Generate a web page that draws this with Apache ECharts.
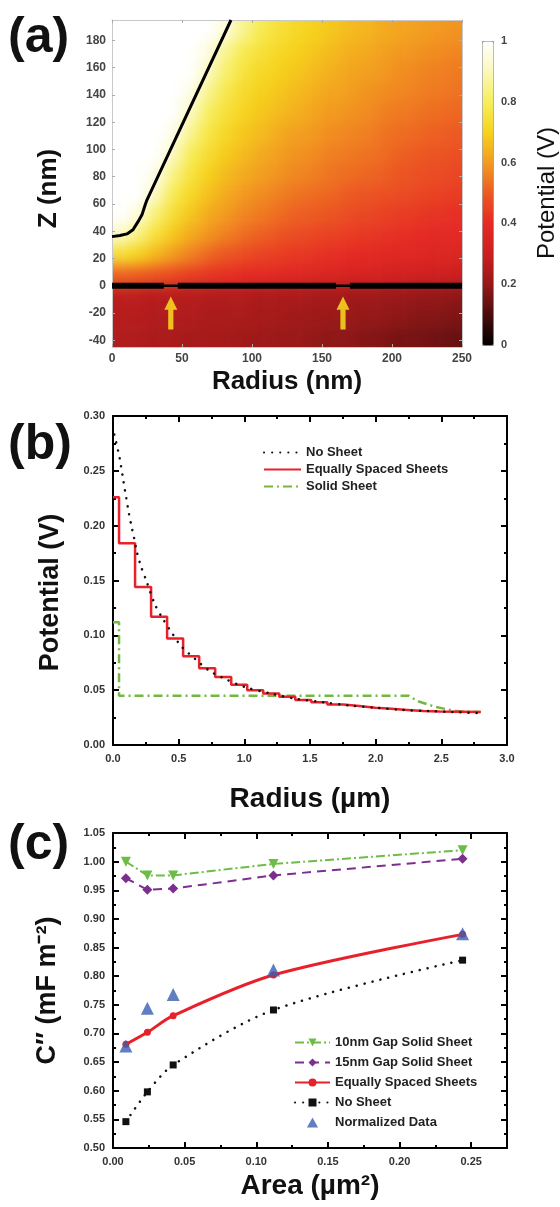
<!DOCTYPE html>
<html>
<head>
<meta charset="utf-8">
<script src="https://cdn.jsdelivr.net/npm/echarts@6/dist/echarts.min.js"></script>
<style>
  html, body { margin: 0; padding: 0; background: #fff; }
  #heatWrap { position: absolute; left: 112px; top: 20px; width: 350px; height: 327px; overflow: hidden; z-index: 1; }
  #heat { position: absolute; left: -35px; top: -40.875px; width: 420px; height: 408.75px; filter: blur(7px); }
  #main { position: absolute; left: 0; top: 0; width: 560px; height: 1207px; z-index: 2; }
</style>
</head>
<body>
<div id="heatWrap"><div id="heat"></div></div>
<div id="main"></div>
<script>
const FONT = 'Arial, "Liberation Sans", Helvetica, sans-serif';

// ---------- (a) potential map ----------
// cell centres: radius every 12.5 nm, z every 15 nm, rows listed from the top
const mapRadius = [6.25, 18.75, 31.25, 43.75, 56.25, 68.75, 81.25, 93.75, 106.25, 118.75,
                   131.25, 143.75, 156.25, 168.75, 181.25, 193.75, 206.25, 218.75, 231.25, 243.75];
const mapZ = [187.5, 172.5, 157.5, 142.5, 127.5, 112.5, 97.5, 82.5, 67.5, 52.5, 37.5, 22.5, 7.5, -7.5, -22.5, -37.5];
const mapPotential = [
  [1, 1, 1, 1, 1, 1, 0.95, 0.86, 0.79, 0.75, 0.72, 0.70, 0.68, 0.66, 0.65, 0.63, 0.62, 0.61, 0.60, 0.59],
  [1, 1, 1, 1, 1, 0.96, 0.86, 0.79, 0.75, 0.72, 0.70, 0.68, 0.66, 0.64, 0.63, 0.61, 0.60, 0.59, 0.58, 0.57],
  [1, 1, 1, 1, 1, 0.92, 0.82, 0.76, 0.72, 0.70, 0.68, 0.66, 0.64, 0.62, 0.61, 0.60, 0.58, 0.57, 0.56, 0.55],
  [1, 1, 1, 1, 0.97, 0.86, 0.78, 0.73, 0.70, 0.68, 0.66, 0.64, 0.62, 0.61, 0.59, 0.58, 0.57, 0.56, 0.55, 0.54],
  [1, 1, 1, 1, 0.92, 0.81, 0.75, 0.71, 0.68, 0.66, 0.64, 0.62, 0.60, 0.59, 0.58, 0.56, 0.55, 0.54, 0.53, 0.52],
  [1, 1, 1, 0.97, 0.86, 0.77, 0.72, 0.68, 0.66, 0.63, 0.61, 0.60, 0.58, 0.57, 0.56, 0.54, 0.53, 0.52, 0.51, 0.50],
  [1, 1, 1, 0.92, 0.80, 0.74, 0.69, 0.66, 0.63, 0.61, 0.59, 0.58, 0.56, 0.55, 0.54, 0.53, 0.51, 0.50, 0.49, 0.48],
  [1, 1, 0.97, 0.85, 0.76, 0.70, 0.66, 0.63, 0.61, 0.59, 0.57, 0.56, 0.54, 0.53, 0.52, 0.51, 0.49, 0.48, 0.47, 0.46],
  [1, 1, 0.92, 0.79, 0.72, 0.67, 0.63, 0.60, 0.58, 0.56, 0.54, 0.53, 0.52, 0.50, 0.49, 0.48, 0.47, 0.46, 0.45, 0.44],
  [1, 0.95, 0.83, 0.74, 0.68, 0.63, 0.60, 0.57, 0.55, 0.53, 0.51, 0.50, 0.49, 0.47, 0.46, 0.45, 0.44, 0.43, 0.42, 0.41],
  [0.92, 0.84, 0.75, 0.68, 0.63, 0.59, 0.56, 0.53, 0.51, 0.49, 0.47, 0.46, 0.45, 0.44, 0.43, 0.42, 0.41, 0.40, 0.39, 0.39],
  [0.74, 0.70, 0.65, 0.60, 0.56, 0.52, 0.49, 0.47, 0.45, 0.44, 0.43, 0.42, 0.41, 0.40, 0.39, 0.38, 0.37, 0.37, 0.36, 0.36],
  [0.51, 0.50, 0.48, 0.46, 0.44, 0.42, 0.41, 0.40, 0.39, 0.38, 0.37, 0.36, 0.35, 0.34, 0.34, 0.33, 0.32, 0.31, 0.31, 0.30],
  [0.27, 0.27, 0.26, 0.26, 0.26, 0.25, 0.25, 0.25, 0.24, 0.24, 0.24, 0.23, 0.23, 0.22, 0.22, 0.21, 0.21, 0.20, 0.20, 0.19],
  [0.26, 0.26, 0.25, 0.25, 0.25, 0.24, 0.24, 0.24, 0.23, 0.23, 0.22, 0.22, 0.21, 0.21, 0.20, 0.20, 0.19, 0.18, 0.18, 0.17],
  [0.25, 0.25, 0.24, 0.24, 0.23, 0.23, 0.23, 0.22, 0.22, 0.21, 0.21, 0.20, 0.19, 0.19, 0.18, 0.17, 0.16, 0.16, 0.15, 0.14]
];
const potentialColors = ['#000000', '#4a0c0c', '#951818', '#cc1f1f', '#e52a24', '#ec5a22',
                         '#f29a20', '#f6d21c', '#f7ee5a', '#faf8b8', '#ffffff'];
const tipRadius = [0, 5.7, 10.7, 15, 18.6, 21.4, 23.6, 25, 85];
const tipZ = [36, 36.8, 38, 41, 47, 52, 59, 63, 195];
const sheetSegments = [[0, 37], [47, 160], [170, 250]];
const arrowRadius = [42, 165];
const arrowZ = -20;
const zTicks = [-40, -20, 0, 20, 40, 60, 80, 100, 120, 140, 160, 180];

// ---------- (b) potential along the sheet ----------
const noSheetR = [0.01, 0.05, 0.08, 0.10, 0.12, 0.14, 0.16, 0.18, 0.21, 0.25, 0.32, 0.38, 0.45, 0.52,
                  0.63, 0.73, 0.84, 1.0, 1.2, 1.4, 1.6, 1.8, 2.0, 2.2, 2.4, 2.6, 2.8];
const noSheetV = [0.283, 0.262, 0.240, 0.226, 0.212, 0.200, 0.189, 0.177, 0.164, 0.151, 0.128, 0.115, 0.102, 0.090,
                  0.078, 0.068, 0.061, 0.053, 0.047, 0.042, 0.039, 0.036, 0.034, 0.032, 0.031, 0.030, 0.029];
const stepR = [0, 0.046, 0.168, 0.29, 0.412, 0.534, 0.656, 0.778, 0.900, 1.022, 1.144, 1.266,
               1.388, 1.51, 1.632, 1.754, 1.876, 1.998, 2.12, 2.242, 2.364, 2.486, 2.8];
const stepV = [0.226, 0.184, 0.144, 0.117, 0.097, 0.081, 0.070, 0.062, 0.055, 0.050, 0.047, 0.044,
               0.041, 0.039, 0.037, 0.0355, 0.034, 0.033, 0.032, 0.031, 0.0305, 0.030, 0.0295];
const solidR = [0, 0.046, 0.046, 2.25, 2.32, 2.45, 2.6, 2.8];
const solidV = [0.112, 0.112, 0.045, 0.045, 0.040, 0.035, 0.031, 0.030];

// ---------- (c) capacitance vs area ----------
const areaX = [0.009, 0.024, 0.042, 0.112, 0.244];
const gap10 = [1.000, 0.976, 0.976, 0.996, 1.020];
const gap15 = [0.971, 0.951, 0.953, 0.976, 1.005];
const equalC = [0.681, 0.702, 0.731, 0.802, 0.873];
const noSheetC = [0.546, 0.598, 0.645, 0.741, 0.828];
const normData = [0.678, 0.744, 0.768, 0.811, 0.874];

const pairs = (xs, ys) => xs.map((x, i) => [x, ys[i]]);

// ---------- underlay: blurred heat map ----------
const heat = echarts.init(document.getElementById('heat'));
const pad = 2, nC = mapRadius.length, nR = mapZ.length;
const heatData = [];
for (let xi = 0; xi < nC + 2 * pad; xi++) {
  for (let yi = 0; yi < nR + 2 * pad; yi++) {
    const c = Math.min(nC - 1, Math.max(0, xi - pad));
    const t = Math.min(nR - 1, Math.max(0, nR + pad - 1 - yi));
    heatData.push([xi, yi, mapPotential[t][c]]);
  }
}
const idx = n => Array.from({ length: n }, (_, i) => String(i));
heat.setOption({
  animation: false,
  grid: { left: 0, right: 0, top: 0, bottom: 0, outerBoundsMode: 'none' },
  xAxis: { type: 'category', data: idx(nC + 2 * pad), show: false },
  yAxis: { type: 'category', data: idx(nR + 2 * pad), show: false },
  visualMap: { show: false, min: 0, max: 1, inRange: { color: potentialColors } },
  series: [{ type: 'heatmap', data: heatData, silent: true }]
});

// ---------- main chart ----------
const tickLbl = { fontFamily: FONT, fontWeight: 'bold', fontSize: 11, color: '#333' };
const nameStyle = (size, weight) => ({ fontFamily: FONT, fontWeight: weight || 'bold', fontSize: size, color: '#111' });

function blackAxis(extra) {
  return Object.assign({
    type: 'value',
    splitLine: { show: false },
    axisLine: { onZero: false, lineStyle: { color: '#000', width: 2 } },
    axisTick: { inside: true, length: 6, lineStyle: { color: '#000', width: 2 } },
    minorTick: { show: true, splitNumber: 2, length: 3, lineStyle: { color: '#000', width: 2 } },
    axisLabel: { show: false }
  }, extra);
}
function grayAxis(extra) {
  return Object.assign({
    type: 'value',
    splitLine: { show: false },
    axisLine: { onZero: false, lineStyle: { color: '#c8c8c8', width: 1 } },
    axisTick: { inside: true, length: 3, lineStyle: { color: '#aaa' } },
    axisLabel: { show: false }
  }, extra);
}

const arrowPath = 'path://M5,0 L10,10 L7,10 L7,25 L3,25 L3,10 L0,10 Z';
const triDown = 'path://M0,0 L10,0 L5,9 Z';
const triUp = 'path://M5,0 L10,9 L0,9 Z';
const legendText = { fontFamily: FONT, fontWeight: 'bold', fontSize: 13, color: '#222' };

const chart = echarts.init(document.getElementById('main'));
chart.setOption({
  animation: false,
  backgroundColor: 'transparent',
  grid: [
    { left: 112, top: 20, width: 350, height: 327, outerBoundsMode: 'none' },
    { left: 482, top: 41, width: 11, height: 304, outerBoundsMode: 'none' },
    { left: 113, top: 416, width: 394, height: 329, outerBoundsMode: 'none' },
    { left: 113, top: 833, width: 394, height: 315, outerBoundsMode: 'none' }
  ],
  xAxis: [
    grayAxis({ gridIndex: 0, min: 0, max: 250, interval: 50,
      name: 'Radius (nm)', nameLocation: 'middle', nameGap: 22, nameTextStyle: nameStyle(26),
      axisLabel: { ...tickLbl, fontSize: 12, color: '#444', margin: 6 } }),
    grayAxis({ gridIndex: 0, position: 'top', min: 0, max: 250, interval: 50 }),
    { gridIndex: 1, type: 'value', show: false },
    blackAxis({ gridIndex: 2, min: 0, max: 3, interval: 0.5,
      name: 'Radius (µm)', nameLocation: 'middle', nameGap: 40, nameTextStyle: nameStyle(28),
      axisLabel: { ...tickLbl, margin: 8, formatter: v => v.toFixed(1) } }),
    blackAxis({ gridIndex: 2, position: 'top', min: 0, max: 3, interval: 0.5 }),
    blackAxis({ gridIndex: 3, min: 0, max: 0.275, interval: 0.05,
      name: 'Area (µm²)', nameLocation: 'middle', nameGap: 24, nameTextStyle: nameStyle(28),
      axisLabel: { ...tickLbl, margin: 8, showMaxLabel: false, formatter: v => v.toFixed(2) } }),
    blackAxis({ gridIndex: 3, position: 'top', min: 0, max: 0.275, interval: 0.05 })
  ],
  yAxis: [
    grayAxis({ gridIndex: 0, min: -45, max: 195,
      name: 'Z (nm)', nameLocation: 'middle', nameGap: 50, nameTextStyle: { ...nameStyle(26), padding: [0, 10, 0, 0] },
      axisTick: { inside: true, length: 3, customValues: zTicks, lineStyle: { color: '#aaa' } },
      axisLabel: { ...tickLbl, fontSize: 12, color: '#444', margin: 6, customValues: zTicks } }),
    grayAxis({ gridIndex: 0, position: 'right', min: -45, max: 195,
      axisTick: { inside: true, length: 3, customValues: zTicks, lineStyle: { color: '#aaa' } } }),
    { gridIndex: 1, type: 'value', position: 'right', min: 0, max: 1, interval: 0.2,
      splitLine: { show: false }, axisLine: { show: false }, axisTick: { show: false },
      axisLabel: { ...tickLbl, color: '#444', margin: 8 },
      name: 'Potential (V)', nameLocation: 'middle', nameGap: 42, nameTextStyle: nameStyle(24, 'normal') },
    blackAxis({ gridIndex: 2, min: 0, max: 0.3, interval: 0.05,
      name: 'Potential (V)', nameLocation: 'middle', nameGap: 49,
      nameTextStyle: { ...nameStyle(27), padding: [0, 24, 0, 0] },
      axisLabel: { ...tickLbl, margin: 8, formatter: v => v.toFixed(2) } }),
    blackAxis({ gridIndex: 2, position: 'right', min: 0, max: 0.3, interval: 0.05 }),
    blackAxis({ gridIndex: 3, min: 0.5, max: 1.05, interval: 0.05,
      name: 'C″ (mF m⁻²)', nameLocation: 'middle', nameGap: 52, nameTextStyle: nameStyle(27),
      axisLabel: { ...tickLbl, margin: 8, formatter: v => v.toFixed(2) } }),
    blackAxis({ gridIndex: 3, position: 'right', min: 0.5, max: 1.05, interval: 0.05 })
  ],
  visualMap: [{
    type: 'continuous', seriesIndex: [], min: 0, max: 1, calculable: false,
    left: 482, top: 41, itemWidth: 11, itemHeight: 304, padding: 0,
    borderColor: '#999', borderWidth: 1,
    inRange: { color: potentialColors }
  }],
  legend: [
    { left: 258, top: 441, orient: 'vertical', itemWidth: 37, itemHeight: 14, itemGap: 4,
      selectedMode: false, itemStyle: { opacity: 0 },
      data: ['No Sheet', 'Equally Spaced Sheets', 'Solid Sheet'], textStyle: legendText },
    { left: 289, top: 1031, orient: 'vertical', itemWidth: 35, itemHeight: 10, itemGap: 7,
      selectedMode: false, symbolKeepAspect: true, formatter: n => n.slice(2),
      data: ['c:10nm Gap Solid Sheet', 'c:15nm Gap Solid Sheet', 'c:Equally Spaced Sheets', 'c:No Sheet',
             { name: 'c:Normalized Data', icon: triUp }],
      textStyle: legendText }
  ],
  graphic: [
    { type: 'text', left: 8, top: 13, style: { text: '(a)', font: 'bold 50px ' + FONT, fill: '#111' } },
    { type: 'text', left: 8, top: 420, style: { text: '(b)', font: 'bold 50px ' + FONT, fill: '#111' } },
    { type: 'text', left: 8, top: 820, style: { text: '(c)', font: 'bold 50px ' + FONT, fill: '#111' } }
  ],
  series: [
    // (a) tip outline
    { type: 'line', xAxisIndex: 0, yAxisIndex: 0, data: pairs(tipRadius, tipZ), symbol: 'none', silent: true,
      lineStyle: { color: '#000', width: 3 }, z: 5 },
    // (a) sheet: thin line through, thick where solid
    { type: 'line', xAxisIndex: 0, yAxisIndex: 0, data: [[0, 0], [250, 0]], symbol: 'none', silent: true,
      lineStyle: { color: '#000', width: 2.5 } },
    ...sheetSegments.map(s => ({
      type: 'line', xAxisIndex: 0, yAxisIndex: 0, data: [[s[0], 0], [s[1], 0]], symbol: 'none', silent: true,
      lineStyle: { color: '#000', width: 6 }
    })),
    { type: 'scatter', xAxisIndex: 0, yAxisIndex: 0, data: arrowRadius.map(r => [r, arrowZ]), silent: true,
      symbol: arrowPath, symbolSize: [13, 33], itemStyle: { color: '#ffea1f' } },

    // (b)
    { name: 'Equally Spaced Sheets', type: 'line', xAxisIndex: 3, yAxisIndex: 3, step: 'end',
      data: pairs(stepR, stepV), symbol: 'none', lineStyle: { color: '#e8212a', width: 2.5 }, z: 3 },
    { name: 'Solid Sheet', type: 'line', xAxisIndex: 3, yAxisIndex: 3,
      data: pairs(solidR, solidV), symbol: 'none', lineStyle: { color: '#72b843', width: 2.5, type: [9, 4, 2, 4] }, z: 2 },
    { name: 'No Sheet', type: 'line', xAxisIndex: 3, yAxisIndex: 3, smooth: 0.3,
      data: pairs(noSheetR, noSheetV), symbol: 'none', itemStyle: { color: '#111' },
      lineStyle: { color: '#111', width: 2.5, type: [0.1, 8], cap: 'round' }, z: 4 },

    // (c)
    { name: 'c:10nm Gap Solid Sheet', type: 'line', xAxisIndex: 5, yAxisIndex: 5, data: pairs(areaX, gap10),
      symbol: triDown, symbolSize: 10, itemStyle: { color: '#6cbd45' },
      lineStyle: { color: '#6cbd45', width: 2, type: [9, 3, 2, 3] } },
    { name: 'c:15nm Gap Solid Sheet', type: 'line', xAxisIndex: 5, yAxisIndex: 5, data: pairs(areaX, gap15),
      symbol: 'diamond', symbolSize: 10, itemStyle: { color: '#7d2f8f' },
      lineStyle: { color: '#7d2f8f', width: 2, type: [9, 6] } },
    { name: 'c:Equally Spaced Sheets', type: 'line', xAxisIndex: 5, yAxisIndex: 5, data: pairs(areaX, equalC),
      smooth: 0.3, symbol: 'circle', symbolSize: 7, itemStyle: { color: '#e8202a' },
      lineStyle: { color: '#e8202a', width: 3 } },
    { name: 'c:No Sheet', type: 'line', xAxisIndex: 5, yAxisIndex: 5, data: pairs(areaX, noSheetC),
      smooth: 0.3, symbol: 'rect', symbolSize: 7, itemStyle: { color: '#111' },
      lineStyle: { color: '#111', width: 2.5, type: [0.1, 8], cap: 'round' } },
    { name: 'c:Normalized Data', type: 'scatter', xAxisIndex: 5, yAxisIndex: 5, data: pairs(areaX, normData),
      symbol: 'triangle', symbolSize: 13, itemStyle: { color: '#3a5eb0' }, z: 5 }
  ]
});
</script>
</body>
</html>
